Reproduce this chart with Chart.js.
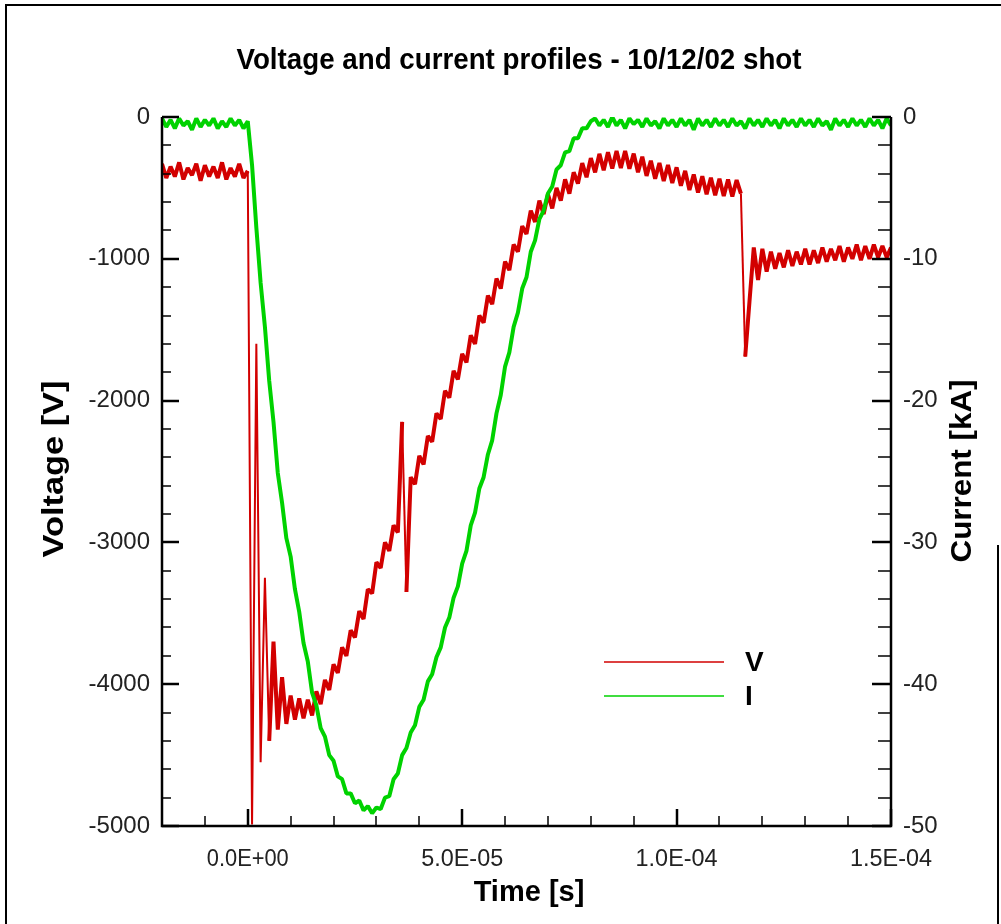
<!DOCTYPE html>
<html>
<head>
<meta charset="utf-8">
<script src="https://cdn.jsdelivr.net/npm/chart.js@4.4.0/dist/chart.umd.min.js"></script>
<style>
  body { margin: 0; background: #fff; }
  #wrap { width: 1001px; height: 924px; position: relative; }
</style>
</head>
<body>
<div id="wrap"><canvas id="profileChart"></canvas></div>
<script>
// sample times in microseconds
var timesUs = [
  -20,-19,-18,-17,-16,-15,-14,-13,-12,-11,
  -10,-9,-8,-7,-6,-5,-4,-3,-2,-1,
  0,1,2,3,4,5,6,7,8,9,
  10,11,12,13,14,15,16,17,18,19,
  20,21,22,23,24,25,26,27,28,29,
  30,31,32,33,34,35,36,37,38,39,
  40,41,42,43,44,45,46,47,48,49,
  50,51,52,53,54,55,56,57,58,59,
  60,61,62,63,64,65,66,67,68,69,
  70,71,72,73,74,75,76,77,78,79,
  80,81,82,83,84,85,86,87,88,89,
  90,91,92,93,94,95,96,97,98,99,
  100,101,102,103,104,105,106,107,108,109,
  110,111,112,113,114,115,116,117,118,119,
  120,121,122,123,124,125,126,127,128,129,
  130,131,132,133,134,135,136,137,138,139,
  140,141,142,143,144,145,146,147,148,149,
  150
];

// voltage [V]
var voltage = [
  -330,-430,-350,-420,-320,-440,-360,-410,-330,-450,
  -340,-420,-350,-430,-320,-440,-360,-420,-330,-430,
  -380,-4990,-1600,-4550,-3250,-4400,-3700,-4320,-3950,-4280,
  -4080,-4250,-4100,-4240,-4110,-4220,
  -4050,-4140,-3970,-4040,-3860,-3920,-3740,-3800,-3620,-3670,
  -3485,-3540,-3330,-3360,-3140,-3180,-3000,-3060,-2880,-2930,
  -2150,-3350,
  -2540,-2590,-2390,-2450,-2250,-2290,-2090,-2130,-1930,-1980,
  -1790,-1850,-1670,-1730,-1540,-1600,-1400,-1450,-1260,-1320,
  -1140,-1210,-1020,-1080,-900,-950,-770,-825,
  -660,-740,-590,-685,-545,-645,-500,-590,-440,-540,
  -390,-470,-325,-425,-290,-390,-260,-375,-248,-363,
  -240,-360,-240,-365,-258,-390,-280,-415,-308,-435,
  -325,-452,-338,-465,-355,-485,-380,-515,-405,-532,
  -418,-545,-428,-552,-435,-558,-440,-560,-445,-540,
  -1690,-1300,-920,-1150,-930,-1090,-950,-1070,-960,-1060,
  -940,-1050,-950,-1040,-930,-1040,-940,-1030,-920,-1020,
  -930,-1010,-910,-1020,-920,-1000,-900,-1010,-910,-1000,
  -900,-990,-910,-990,-920
];

// current [kA]
var current = [
  -0.1,-0.7,-0.2,-0.8,-0.1,-0.6,-0.3,-0.9,-0.1,-0.7,
  -0.2,-0.6,-0.1,-0.8,-0.3,-0.7,-0.1,-0.6,-0.2,-0.8,
  -0.3,-3.4,-7.8,-11.7,-14.8,-18.6,-21.5,-25.1,-27.2,-29.7,
  -31.0,-33.3,-34.9,-37.1,-38.4,-40.6,-41.5,-43.1,-43.7,-45.0,
  -45.4,-46.5,-46.7,-47.7,-47.7,-48.4,-48.2,-48.9,-48.6,-49.1,
  -48.7,-48.8,-48.0,-47.9,-46.7,-46.3,-45.0,-44.5,-43.4,-42.9,
  -41.6,-41.1,-39.8,-39.3,-38.1,-37.4,-36.0,-35.3,-33.9,-33.1,
  -31.5,-30.6,-28.8,-27.9,-26.2,-25.4,-23.8,-22.8,-20.9,-19.6,
  -17.6,-16.6,-14.8,-13.8,-12.1,-11.3,-9.5,-8.7,-7.2,-6.6,
  -5.4,-4.9,-3.7,-3.4,-2.5,-2.4,-1.5,-1.5,-0.8,-0.8,
  -0.3,
  -0.1,-0.6,-0.2,-0.7,0.0,-0.6,-0.2,-0.8,-0.1,-0.5,
  -0.2,-0.7,-0.1,-0.6,-0.3,-0.8,-0.1,-0.6,-0.2,-0.7,
  -0.1,-0.6,-0.2,-0.9,-0.1,-0.6,-0.2,-0.7,-0.1,-0.6,
  -0.2,-0.7,-0.1,-0.6,-0.3,-0.8,-0.1,-0.6,-0.2,-0.7,
  -0.1,-0.6,-0.2,-0.8,-0.1,-0.6,-0.2,-0.7,-0.1,-0.6,
  -0.2,-0.7,-0.1,-0.6,-0.3,-0.9,-0.1,-0.6,-0.2,-0.7,
  -0.1,-0.6,-0.2,-0.7,-0.1,-0.6,-0.2,-0.8,-0.1,-0.6
];

var xMajor = [0, 5e-5, 1e-4, 1.5e-4];
var xLabels = ['0.0E+00', '5.0E-05', '1.0E-04', '1.5E-04'];
var xMinor = [-1e-5, 1e-5, 2e-5, 3e-5, 4e-5, 6e-5, 7e-5, 8e-5, 9e-5, 1.1e-4, 1.2e-4, 1.3e-4, 1.4e-4];
var vMajor = [0, -1000, -2000, -3000, -4000, -5000];
var vMinor = [-200,-400,-600,-800,-1200,-1400,-1600,-1800,-2200,-2400,-2600,-2800,
              -3200,-3400,-3600,-3800,-4200,-4400,-4600,-4800];
var iMajor = [0, -10, -20, -30, -40, -50];
var iMinor = [-2,-4,-6,-8,-12,-14,-16,-18,-22,-24,-26,-28,-32,-34,-36,-38,-42,-44,-46,-48];

var redCol = '#d20000';
var greenCol = '#00d200';

function toPoints(vals) {
  var pts = [];
  for (var i = 0; i < timesUs.length; i++) pts.push({x: timesUs[i] * 1e-6, y: vals[i]});
  return pts;
}

// thin stroke on the big jumps, heavy stroke on the noisy band
function segWidth(c) {
  return Math.abs(c.p1.y - c.p0.y) > 150 ? 2 : 4;
}

var tickFont = "24px 'Liberation Sans', Arial, sans-serif";

// draws text squeezed horizontally to a given width
function fitText(ctx, txt, x, y, w) {
  var m = ctx.measureText(txt).width;
  ctx.save();
  ctx.translate(x, y);
  ctx.scale(w / m, 1);
  ctx.fillText(txt, 0, 0);
  ctx.restore();
}

var decor = {
  id: 'decor',
  afterDraw: function(chart) {
    var ctx = chart.ctx, a = chart.chartArea;
    var sx = chart.scales.x, sv = chart.scales.yV, si = chart.scales.yI;
    ctx.save();
    ctx.strokeStyle = '#000';
    ctx.lineCap = 'butt';

    // page frame
    ctx.lineWidth = 2;
    ctx.beginPath();
    ctx.moveTo(6, 924); ctx.lineTo(6, 5); ctx.lineTo(1001, 5);
    ctx.moveTo(998, 545); ctx.lineTo(998, 924);
    ctx.stroke();

    // axes
    ctx.lineWidth = 2.5;
    ctx.beginPath();
    ctx.moveTo(a.left, a.top); ctx.lineTo(a.left, a.bottom);
    ctx.lineTo(a.right, a.bottom); ctx.lineTo(a.right, a.top);
    ctx.stroke();

    function vtick(v, len, w) {
      var px = Math.round(sx.getPixelForValue(v));
      ctx.lineWidth = w;
      ctx.beginPath(); ctx.moveTo(px, a.bottom); ctx.lineTo(px, a.bottom - len); ctx.stroke();
    }
    function ltick(scale, v, len, w) {
      var py = Math.round(scale.getPixelForValue(v));
      ctx.lineWidth = w;
      ctx.beginPath(); ctx.moveTo(a.left, py); ctx.lineTo(a.left + len, py); ctx.stroke();
    }
    function rtick(scale, v, len, w) {
      var py = Math.round(scale.getPixelForValue(v));
      ctx.lineWidth = w;
      ctx.beginPath(); ctx.moveTo(a.right, py); ctx.lineTo(a.right - len, py); ctx.stroke();
    }
    xMajor.forEach(function(v) { vtick(v, 17, 2.5); });
    xMinor.forEach(function(v) { vtick(v, 10, 1.5); });
    vMajor.forEach(function(v) { ltick(sv, v, 17, 2.5); });
    vMinor.forEach(function(v) { ltick(sv, v, 9, 1.5); });
    iMajor.forEach(function(v) { rtick(si, v, 19, 2.5); });
    iMinor.forEach(function(v) { rtick(si, v, 13, 1.5); });

    // tick labels
    ctx.fillStyle = '#222';
    ctx.font = tickFont;
    ctx.textBaseline = 'middle';
    ctx.textAlign = 'right';
    vMajor.forEach(function(v) { ctx.fillText(String(v), 150, sv.getPixelForValue(v)); });
    ctx.textAlign = 'left';
    iMajor.forEach(function(v) { ctx.fillText(String(v), 903, si.getPixelForValue(v)); });
    ctx.textAlign = 'center';
    xMajor.forEach(function(v, i) { fitText(ctx, xLabels[i], sx.getPixelForValue(v), 859, 82); });

    // titles
    ctx.fillStyle = '#000';
    ctx.font = "bold 30px 'Liberation Sans', Arial, sans-serif";
    fitText(ctx, 'Voltage and current profiles - 10/12/02 shot', 519, 61, 565);
    ctx.font = "bold 29px 'Liberation Sans', Arial, sans-serif";
    ctx.fillText('Time [s]', 529, 893);
    ctx.font = "bold 30px 'Liberation Sans', Arial, sans-serif";
    ctx.save();
    ctx.translate(55, 469); ctx.rotate(-Math.PI / 2);
    fitText(ctx, 'Voltage [V]', 0, 0, 177);
    ctx.restore();
    ctx.save();
    ctx.translate(963, 471); ctx.rotate(-Math.PI / 2);
    fitText(ctx, 'Current [kA]', 0, 0, 183);
    ctx.restore();

    // legend inside plot
    var ly = [662, 696];
    chart.data.datasets.forEach(function(ds, i) {
      ctx.strokeStyle = ds.borderColor;
      ctx.lineWidth = 1.5;
      ctx.beginPath(); ctx.moveTo(604, ly[i]); ctx.lineTo(724, ly[i]); ctx.stroke();
      ctx.fillStyle = '#000';
      ctx.textAlign = 'left';
      ctx.font = "bold 28px 'Liberation Sans', Arial, sans-serif";
      ctx.fillText(ds.label, 745, ly[i] + 1);
    });
    ctx.restore();
  }
};

var chart = new Chart(document.getElementById('profileChart'), {
  type: 'line',
  data: {
    datasets: [
      { label: 'V', data: toPoints(voltage), yAxisID: 'yV', borderColor: redCol, borderWidth: 4,
        borderJoinStyle: 'bevel', segment: { borderWidth: segWidth }, order: 1 },
      { label: 'I', data: toPoints(current), yAxisID: 'yI', borderColor: greenCol, borderWidth: 4,
        borderJoinStyle: 'bevel', segment: { borderWidth: segWidth }, order: 0 }
    ]
  },
  options: {
    responsive: true,
    maintainAspectRatio: false,
    animation: false,
    devicePixelRatio: 1,
    layout: { padding: { left: 162, right: 110, top: 117, bottom: 98 } },
    elements: { point: { radius: 0 }, line: { tension: 0 } },
    plugins: { legend: { display: false }, title: { display: false }, tooltip: { enabled: false } },
    scales: {
      x: { type: 'linear', min: -2e-5, max: 1.5e-4, display: false },
      yV: { type: 'linear', position: 'left', min: -5000, max: 0, display: false },
      yI: { type: 'linear', position: 'right', min: -50, max: 0, display: false }
    }
  },
  plugins: [decor]
});
</script>
</body>
</html>
